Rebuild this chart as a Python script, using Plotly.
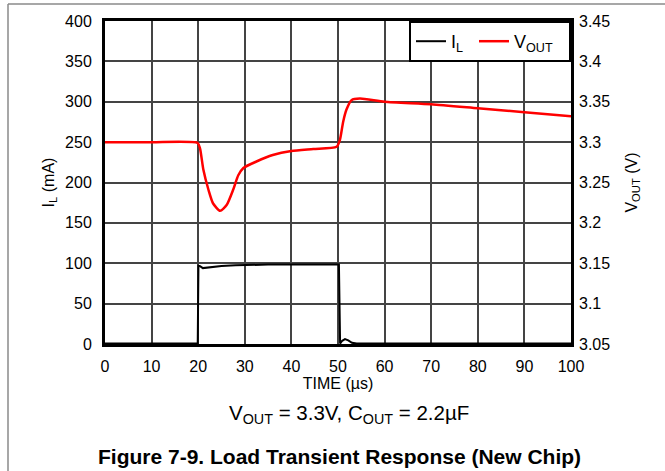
import plotly.graph_objects as go

# Load current I_L (mA) vs time (us)
t_il = [0, 19.9, 20.05, 20.4, 21.0, 21.8, 23, 25, 28, 30, 35, 40, 45, 50.2, 50.45,
        50.9, 51.5, 52.2, 53.0, 54.0, 100]
il = [0.5, 0.5, 97, 96.5, 94, 94.5, 95.5, 96.5, 97.5, 98, 98.3, 98.3, 98.3, 98.3, 0.5,
      4, 6, 4.5, 1.5, 0.5, 0.5]

# Output voltage V_OUT (V) vs time (us)
t_v = [0, 10, 19.9, 20.4, 21.1, 22.2, 23.2, 24.7, 26.1, 27.5, 28.6, 29.7, 32.5, 36,
       40, 44.7, 49.7, 50.4, 51.1, 51.8, 52.9, 54.7, 60, 70, 80, 90, 100]
vout = [3.300, 3.300, 3.299, 3.292, 3.266, 3.241, 3.224, 3.215, 3.222, 3.241, 3.259,
        3.268, 3.276, 3.284, 3.289, 3.2915, 3.2943, 3.3026, 3.325, 3.340, 3.352, 3.354,
        3.350, 3.347, 3.342, 3.337, 3.332]

x_ticks = list(range(0, 101, 10))
il_ticks = list(range(0, 401, 50))
v_ticks = [3.05, 3.1, 3.15, 3.2, 3.25, 3.3, 3.35, 3.4, 3.45]
v_labels = ['3.05', '3.1', '3.15', '3.2', '3.25', '3.3', '3.35', '3.4', '3.45']

FONT = 'Arial, Liberation Sans, sans-serif'

fig = go.Figure()
fig.add_trace(go.Scatter(
    x=t_il, y=il, mode='lines', name='I<sub>L</sub>', legendwidth=18,
    line={'color': 'black', 'width': 2},
))
fig.add_trace(go.Scatter(
    x=t_v, y=vout, mode='lines', name='V<sub>OUT</sub>', yaxis='y2', legendwidth=50,
    line={'color': '#ff0000', 'width': 2.5, 'shape': 'spline', 'smoothing': 0.6},
))

# plot area in pixels: x 105..571, y 21..344
L, R, T, B = 105, 571, 21, 344
W, H = 665, 471


def px(x):
    return (x - L) / (R - L)


def py(y):
    return (B - y) / (B - T)


fig.update_layout(
    width=W, height=H,
    margin={'l': L, 'r': W - R, 't': T, 'b': H - B},
    paper_bgcolor='white', plot_bgcolor='white',
    font={'family': FONT, 'size': 16, 'color': 'black'},
    showlegend=True,
    legend={
        'orientation': 'h', 'x': 1, 'y': 1, 'xanchor': 'right', 'yanchor': 'top',
        'bgcolor': 'white', 'bordercolor': 'black', 'borderwidth': 2,
        'font': {'size': 18},
    },
    xaxis={
        'range': [0, 100], 'tickvals': x_ticks, 'ticks': '',
        'ticklabelstandoff': 6,
        'showgrid': True, 'gridcolor': '#444444', 'gridwidth': 1.5,
        'showline': True, 'linecolor': 'black', 'linewidth': 3, 'mirror': True,
        'zeroline': False,
        'title': {'text': 'TIME (µs)', 'standoff': 4, 'font': {'size': 16}},
        'tickfont': {'size': 16},
    },
    yaxis={
        'range': [0, 400], 'tickvals': il_ticks, 'ticks': '',
        'ticklabelstandoff': 7,
        'showgrid': True, 'gridcolor': '#444444', 'gridwidth': 1.5,
        'showline': True, 'linecolor': 'black', 'linewidth': 3, 'mirror': True,
        'zeroline': False,
        'title': {'text': 'I<sub>L</sub> (mA)', 'standoff': 7, 'font': {'size': 16}},
        'tickfont': {'size': 16},
    },
    yaxis2={
        'range': [3.05, 3.45], 'tickvals': v_ticks, 'ticktext': v_labels,
        'overlaying': 'y', 'side': 'right', 'ticks': '',
        'ticklabelstandoff': 7,
        'showgrid': False, 'zeroline': False,
        'title': {'text': 'V<sub>OUT</sub> (V)', 'standoff': 16, 'font': {'size': 16}},
        'tickfont': {'size': 16},
    },
    shapes=[
        {'type': 'line', 'xref': 'paper', 'yref': 'paper',
         'x0': px(8), 'x1': px(W + 2), 'y0': py(4), 'y1': py(4),
         'line': {'color': '#8a8a8a', 'width': 1.5}},
        {'type': 'line', 'xref': 'paper', 'yref': 'paper',
         'x0': px(8), 'x1': px(8), 'y0': py(4), 'y1': py(H + 2),
         'line': {'color': '#8a8a8a', 'width': 1.5}},
    ],
    annotations=[
        {'text': 'V<sub>OUT</sub> = 3.3V, C<sub>OUT</sub> = 2.2µF',
         'xref': 'paper', 'yref': 'paper', 'x': px(349), 'y': py(414),
         'xanchor': 'center', 'yanchor': 'middle', 'showarrow': False,
         'font': {'size': 20.5}},
        {'text': '<b>Figure 7-9. Load Transient Response (New Chip)</b>',
         'xref': 'paper', 'yref': 'paper', 'x': px(339), 'y': py(456),
         'xanchor': 'center', 'yanchor': 'middle', 'showarrow': False,
         'font': {'size': 21}},
    ],
)

fig.write_html('out.html', config={'displayModeBar': False},
               post_script="document.body.style.margin = '0';")
